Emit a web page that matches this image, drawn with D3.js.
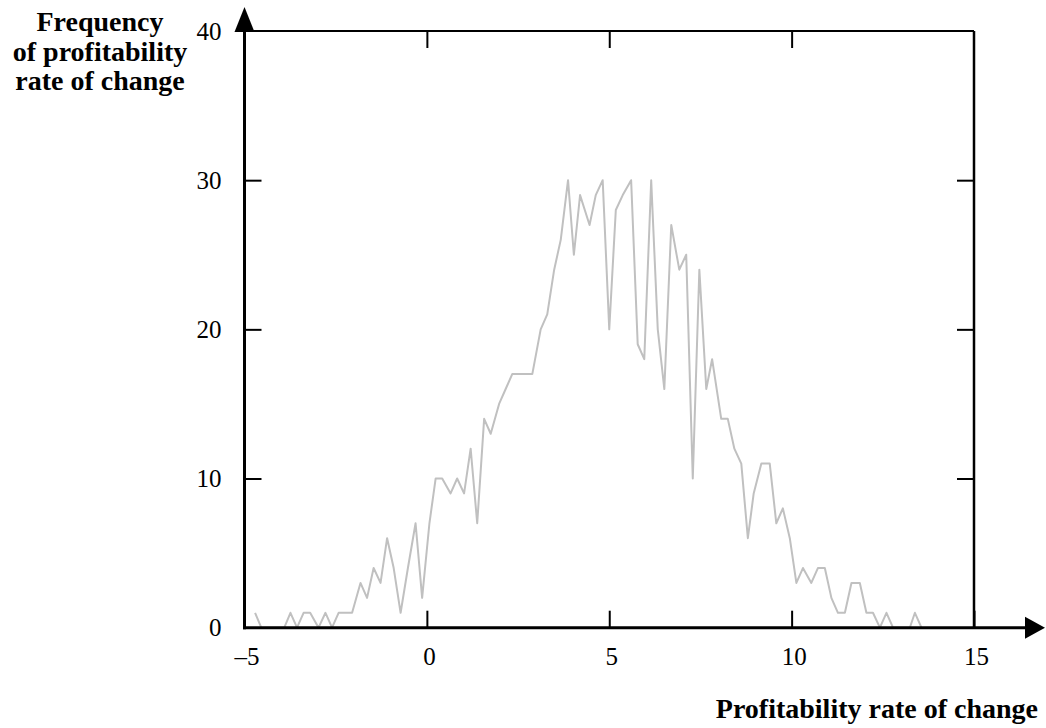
<!DOCTYPE html>
<html>
<head>
<meta charset="utf-8">
<script src="https://cdn.jsdelivr.net/npm/d3@7"></script>
<style>
  body { margin: 0; background: #fff; }
  svg { display: block; }
</style>
</head>
<body>
<script>
// Profitability rate of change (bin position) and how often it occurs
const rateValues = [
  -4.71, -4.54, -4.33, -4.12, -3.91, -3.74, -3.56, -3.38, -3.20, -2.97,
  -2.78, -2.60, -2.42, -2.23, -2.05, -1.82, -1.64, -1.46, -1.27, -1.09,
  -0.91, -0.72, -0.52, -0.31, -0.13, 0.07, 0.24, 0.42, 0.65, 0.83,
  1.02, 1.20, 1.38, 1.57, 1.75, 1.98, 2.16, 2.34, 2.53, 2.71,
  2.89, 3.12, 3.30, 3.49, 3.67, 3.87, 4.03, 4.20, 4.46, 4.63,
  4.82, 5.00, 5.18, 5.37, 5.60, 5.78, 5.96, 6.15, 6.33, 6.51,
  6.70, 6.92, 7.11, 7.29, 7.47, 7.66, 7.82, 8.07, 8.25, 8.43,
  8.62, 8.80, 8.96, 9.17, 9.40, 9.58, 9.76, 9.95, 10.13, 10.31,
  10.54, 10.72, 10.91, 11.09, 11.27, 11.46, 11.64, 11.87, 12.05, 12.23,
  12.42, 12.60, 12.78, 13.01, 13.24, 13.38, 13.56
];
const frequencies = [
  1, 0, 0, 0, 0, 1, 0, 1, 1, 0,
  1, 0, 1, 1, 1, 3, 2, 4, 3, 6,
  4, 1, 4, 7, 2, 7, 10, 10, 9, 10,
  9, 12, 7, 14, 13, 15, 16, 17, 17, 17,
  17, 20, 21, 24, 26, 30, 25, 29, 27, 29,
  30, 20, 28, 29, 30, 19, 18, 30, 20, 16,
  27, 24, 25, 10, 24, 16, 18, 14, 14, 12,
  11, 6, 9, 11, 11, 7, 8, 6, 3, 4,
  3, 4, 4, 2, 1, 1, 3, 3, 1, 1,
  0, 1, 0, 0, 0, 1, 0
];

const xTicks = [-5, 0, 5, 10, 15];
const yTicks = [0, 10, 20, 30, 40];
const yInnerTicks = [10, 20, 30];
const xTopTicks = [0, 5, 10];

const W = 1046, H = 728;
const plotLeft = 244.5, plotRight = 974, plotTop = 31, plotBottom = 627.7;
const serif = "'Liberation Serif', 'Times New Roman', serif";

const svg = d3.select("body").append("svg")
    .attr("width", W)
    .attr("height", H)
    .attr("viewBox", [0, 0, W, H]);

const x = d3.scaleLinear().domain([-5, 15]).range([plotLeft, plotRight]);
const y = d3.scaleLinear().domain([0, 40]).range([plotBottom, plotTop]);

const points = rateValues.map((r, i) => ({ r: r, f: frequencies[i] }));

// the frequency curve (drawn first so the axes sit on top of it)
svg.append("path")
    .datum(points)
    .attr("fill", "none")
    .attr("stroke", "#c0c0c0")
    .attr("stroke-width", 2)
    .attr("stroke-linejoin", "round")
    .attr("d", d3.line().x(d => x(d.r)).y(d => y(d.f)));

const fmtX = d => d < 0 ? "\u2013" + Math.abs(d) : String(d);

// bottom axis with inward ticks
const gx = svg.append("g")
    .attr("transform", `translate(0,${plotBottom})`)
    .call(d3.axisBottom(x).tickValues(xTicks).tickFormat(fmtX)
        .tickSizeInner(-17).tickSizeOuter(0).tickPadding(20));

// left axis
const gy = svg.append("g")
    .attr("transform", `translate(${plotLeft},0)`)
    .call(d3.axisLeft(y).tickValues(yTicks)
        .tickSizeInner(-17).tickSizeOuter(0).tickPadding(23));

// top and right frame ticks, no labels
const gt = svg.append("g")
    .attr("transform", `translate(0,${plotTop})`)
    .call(d3.axisTop(x).tickValues(xTopTicks).tickFormat("")
        .tickSizeInner(-17).tickSizeOuter(0));

const gr = svg.append("g")
    .attr("transform", `translate(${plotRight},0)`)
    .call(d3.axisRight(y).tickValues(yInnerTicks).tickFormat("")
        .tickSizeInner(-17).tickSizeOuter(0));

[gx, gy, gt, gr].forEach(g => {
    g.select(".domain").remove();
    g.selectAll(".tick line").attr("stroke", "#000").attr("stroke-width", 2);
    g.selectAll(".tick text")
        .attr("fill", "#000")
        .style("font-family", serif)
        .style("font-size", "25px");
});
gx.selectAll(".tick text").attr("dx", 2);
gy.selectAll(".tick line").filter(d => d === 0 || d === 40).remove();
gx.selectAll(".tick line").filter(d => d === -5).remove();

// frame lines
svg.append("line")
    .attr("x1", plotLeft).attr("x2", plotRight).attr("y1", plotTop).attr("y2", plotTop)
    .attr("stroke", "#000").attr("stroke-width", 2.2);
svg.append("line")
    .attr("x1", plotRight).attr("x2", plotRight).attr("y1", plotTop).attr("y2", plotBottom)
    .attr("stroke", "#000").attr("stroke-width", 2.5);

// main axes with arrow heads
svg.append("line")
    .attr("x1", plotLeft).attr("x2", plotLeft).attr("y1", plotBottom + 1.5).attr("y2", 20)
    .attr("stroke", "#000").attr("stroke-width", 3);
svg.append("line")
    .attr("x1", plotLeft - 1.5).attr("x2", 1030).attr("y1", plotBottom).attr("y2", plotBottom)
    .attr("stroke", "#000").attr("stroke-width", 3);

svg.append("path")
    .attr("d", `M${plotLeft - 10},32 L${plotLeft},7 L${plotLeft + 10},32 Z`)
    .attr("fill", "#000");
svg.append("path")
    .attr("d", `M1025,${plotBottom - 11} L1045,${plotBottom} L1025,${plotBottom + 11} Z`)
    .attr("fill", "#000");

// axis titles
const yTitle = svg.append("text")
    .attr("text-anchor", "middle")
    .style("font-family", serif)
    .style("font-size", "28px")
    .style("font-weight", "bold");
["Frequency", "of profitability", "rate of change"].forEach((t, i) => {
    yTitle.append("tspan").attr("x", 100).attr("y", 31 + i * 29.5).text(t);
});

svg.append("text")
    .attr("x", 1038)
    .attr("y", 718)
    .attr("text-anchor", "end")
    .style("font-family", serif)
    .style("font-size", "28px")
    .style("font-weight", "bold")
    .text("Profitability rate of change");
</script>
</body>
</html>
